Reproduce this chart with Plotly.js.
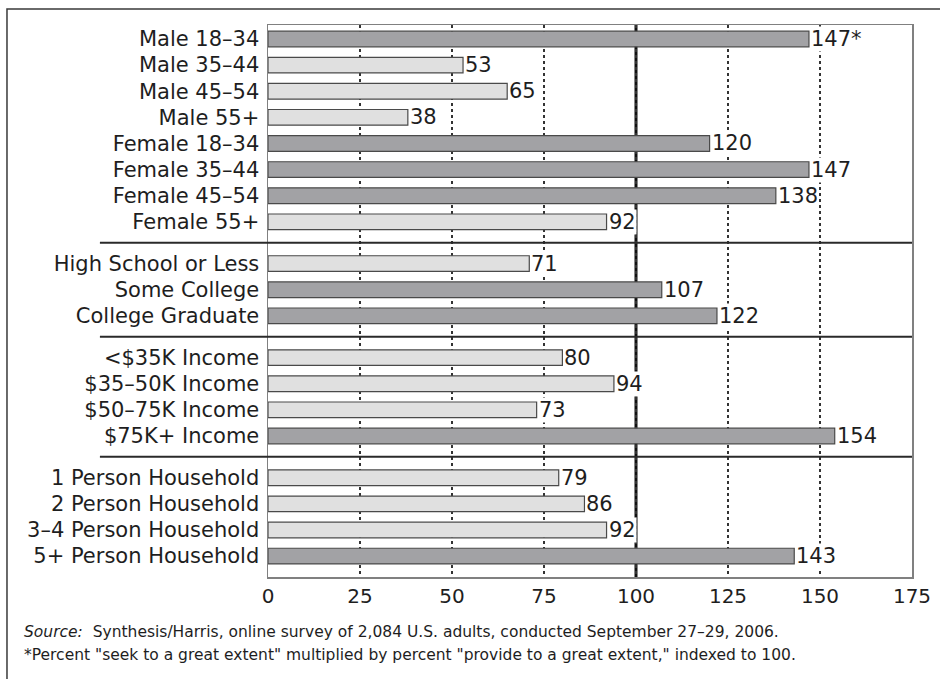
<!DOCTYPE html>
<html>
<head>
<meta charset="utf-8">
<script src="https://cdn.plot.ly/plotly-3.0.1.min.js"></script>
<style>
  html, body { margin: 0; padding: 0; background: #ffffff; }
  #chart { width: 940px; height: 679px; }
</style>
</head>
<body>
<div id="chart"></div>
<script>
// Index of seeking and providing advice, by demographic group
const categories = [
  'Male 18–34', 'Male 35–44', 'Male 45–54', 'Male 55+',
  'Female 18–34', 'Female 35–44', 'Female 45–54', 'Female 55+',
  'High School or Less', 'Some College', 'College Graduate',
  '<$35K Income', '$35–50K Income', '$50–75K Income', '$75K+ Income',
  '1 Person Household', '2 Person Household', '3–4 Person Household', '5+ Person Household'
];
const values = [147, 53, 65, 38, 120, 147, 138, 92, 71, 107, 122, 80, 94, 73, 154, 79, 86, 92, 143];
const groups = [0, 0, 0, 0, 0, 0, 0, 0, 1, 1, 1, 2, 2, 2, 2, 3, 3, 3, 3];
const valueNotes = ['*', '', '', '', '', '', '', '', '', '', '', '', '', '', '', '', '', '', ''];
const xTicks = [0, 25, 50, 75, 100, 125, 150, 175];
const indexBase = 100;
const sourceLine = '<i>Source:</i>  Synthesis/Harris, online survey of 2,084 U.S. adults, conducted September 27–29, 2006.';
const noteLine = '*Percent "seek to a great extent" multiplied by percent "provide to a great extent," indexed to 100.';

// Row layout: one unit per row, plus extra space between groups
const GROUP_GAP = 0.6;
const rowPos = categories.map((c, i) => i + groups[i] * GROUP_GAP);

// Separators sit halfway between the last row of a group and the next row
const separators = [];
for (let i = 1; i < categories.length; i++) {
  if (groups[i] !== groups[i - 1]) separators.push((rowPos[i - 1] + rowPos[i]) / 2);
}

const DARK = '#a2a2a5';
const LIGHT = '#e0e0e0';
const barColors = values.map(v => (v > indexBase ? DARK : LIGHT));
const labels = values.map((v, i) => String(v) + valueNotes[i]);

const FONT = '"DejaVu Sans", "Open Sans", sans-serif';
const INK = '#1e1e1e';

const trace = {
  type: 'bar',
  orientation: 'h',
  x: values,
  y: rowPos,
  width: 0.6,
  marker: { color: barColors, line: { color: '#4a4a4a', width: 1.2 } },
  hoverinfo: 'skip'
};

// Value labels sit on a white ground so grid lines break behind them
const valueLabels = values.map((v, i) => ({
  xref: 'x', yref: 'y', x: v, y: rowPos[i],
  xanchor: 'left', yanchor: 'middle', xshift: 1,
  showarrow: false, text: labels[i],
  bgcolor: '#ffffff', borderpad: 0,
  font: { family: FONT, size: 21, color: INK }
}));

const shapes = [
  // reference line at the index base
  {
    type: 'line', layer: 'between', xref: 'x', yref: 'paper',
    x0: indexBase, x1: indexBase, y0: 0, y1: 1,
    line: { color: '#111111', width: 3 }
  },
  // outer frame
  {
    type: 'rect', layer: 'above', xref: 'paper', yref: 'paper',
    x0: -0.4053, x1: 1.08, y0: -0.25, y1: 1.029,
    line: { color: '#3a3a3a', width: 1.5 }, fillcolor: 'rgba(0,0,0,0)'
  }
].concat(separators.map(s => ({
  type: 'line', layer: 'above', xref: 'paper', yref: 'y',
  x0: -0.261, x1: 1, y0: s, y1: s,
  line: { color: '#2a2a2a', width: 2 }
})));

const layout = {
  width: 940,
  height: 679,
  margin: { l: 268, r: 28, t: 25, b: 102, pad: 0 },
  paper_bgcolor: '#ffffff',
  plot_bgcolor: '#ffffff',
  showlegend: false,
  bargap: 0,
  xaxis: {
    range: [0, 175],
    tickvals: xTicks,
    ticks: '',
    showgrid: true,
    gridcolor: '#333333',
    gridwidth: 1.3,
    griddash: 'dot',
    zeroline: false,
    showline: true,
    mirror: true,
    linecolor: '#808080',
    linewidth: 1.5,
    ticklabelstandoff: 0,
    tickfont: { family: FONT, size: 20, color: INK },
    fixedrange: true
  },
  yaxis: {
    range: [20.6, -0.536],
    tickvals: rowPos,
    ticktext: categories,
    ticks: '',
    showgrid: false,
    zeroline: false,
    showline: true,
    mirror: true,
    linecolor: '#808080',
    linewidth: 1.5,
    ticklabelstandoff: 3,
    tickfont: { family: FONT, size: 21, color: INK },
    fixedrange: true
  },
  shapes: shapes,
  annotations: valueLabels.concat([
    {
      xref: 'paper', yref: 'paper', x: -0.382, y: -0.0996,
      xanchor: 'left', yanchor: 'middle', showarrow: false,
      text: sourceLine, align: 'left',
      font: { family: FONT, size: 15.5, color: INK }
    },
    {
      xref: 'paper', yref: 'paper', x: -0.382, y: -0.141,
      xanchor: 'left', yanchor: 'middle', showarrow: false,
      text: noteLine, align: 'left',
      font: { family: FONT, size: 15.5, color: INK }
    }
  ])
};

Plotly.newPlot('chart', [trace], layout, { displayModeBar: false, staticPlot: true });
</script>
</body>
</html>
